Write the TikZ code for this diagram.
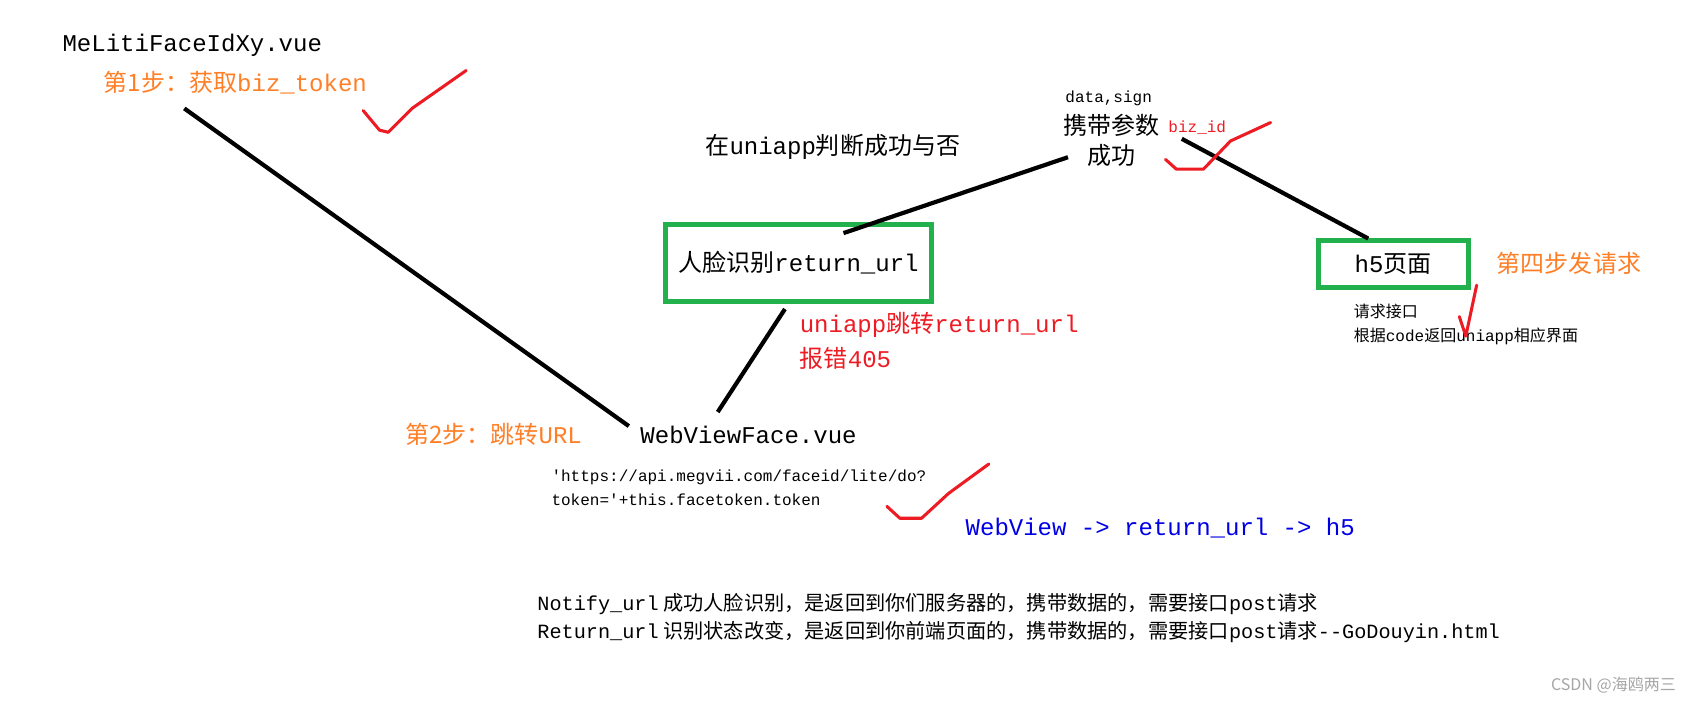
\documentclass[tikz,border=0pt]{standalone}
\usepackage{fontspec}
\setmainfont{Noto Sans CJK SC}
\newfontfamily\mo{Liberation Mono}
\definecolor{org}{RGB}{255,127,39}
\definecolor{grn}{RGB}{34,177,76}
\definecolor{rd}{RGB}{237,28,36}
\definecolor{bl}{RGB}{0,0,230}
\begin{document}
\begin{tikzpicture}[x=0.01cm,y=-0.01cm,
  txt/.style={anchor=west,inner sep=0pt,font=\fontsize{6.3}{7.5}\selectfont},
  sm/.style={anchor=west,inner sep=0pt,font=\fontsize{4.2}{5}\selectfont},
  bt/.style={anchor=west,inner sep=0pt,font=\fontsize{5.3}{6}\selectfont},
  ln/.style={line width=1.1pt,black},
  chk/.style={rd,line width=0.8pt,line cap=round,line join=round},
  gbox/.style={draw=grn,line width=1.3pt,minimum width=2.43cm,minimum height=0.71cm,font=\fontsize{6.3}{7.5}\selectfont}]
\useasboundingbox[fill=white] (0,0) rectangle (1568,647);
\node[txt] (mel) at (57,42) {\mo MeLitiFaceIdXy.vue};
\node[txt,org] (s1) at (95,76) {第1步：获取{\mo biz\_token}};
\node[txt] (judge) at (650,135) {在{\mo uniapp}判断成功与否};
\node[sm] (ds) at (982,91) {\mo data,sign};
\node[txt] (xd) at (980,116) {携带参数};
\node[sm,rd] (bid) at (1077,118) {\mo biz\_id};
\node[txt,anchor=center] (cg) at (1025,143) {成功};
\node[gbox] (face) at (736.5,242.5) {人脸识别{\mo return\_url}};
\node[gbox,minimum width=1.38cm,minimum height=0.43cm] (h5) at (1285,243.5) {{\mo h5}页面};
\node[txt,org] (s4) at (1380,243) {第四步发请求};
\node[sm] (q1) at (1248,287) {请求接口};
\node[sm] (q2) at (1248,310) {根据{\mo code}返回{\mo uniapp}相应界面};
\node[txt,rd] (e1) at (737,300) {{\mo uniapp}跳转{\mo return\_url}};
\node[txt,rd] (e2) at (737,331) {报错{\mo 405}};
\node[txt,org] (s2) at (373,401) {第2步：跳转{\mo URL}};
\node[txt] (wv) at (590,401) {\mo WebViewFace.vue};
\node[sm] (u1) at (508,440) {\mo 'https://api.megvii.com/faceid/lite/do?};
\node[sm] (u2) at (508,461) {\mo token='+this.facetoken.token};
\node[txt,bl] (flow) at (890,487) {\mo WebView -> return\_url -> h5};
\node[bt] (n1) at (495,557) {{\mo Notify\_url} 成功人脸识别，是返回到你们服务器的，携带数据的，需要接口{\mo post}请求};
\node[bt] (n2) at (495,583) {{\mo Return\_url} 识别状态改变，是返回到你前端页面的，携带数据的，需要接口{\mo post}请求{\mo --GoDouyin.html}};
\node[anchor=west,inner sep=0pt,font=\fontsize{4.2}{5}\selectfont,gray!70] (csdn) at (1430,632) {CSDN @海鸥两三};
\coordinate (a1) at (170,100); \coordinate (a2) at (580,393);
\coordinate (b1) at (778,215); \coordinate (b2) at (985,145);
\coordinate (c1) at (1090,128); \coordinate (c2) at (1262,220);
\coordinate (d1) at (724,285); \coordinate (d2) at (662,380);
\draw[ln] (a1) -- (a2);
\draw[ln] (b1) -- (b2);
\draw[ln] (c1) -- (c2);
\draw[ln] (d1) -- (d2);
\draw[chk] (335,102) -- (350,120) -- (358,122) -- (380,100) -- (430,65);
\draw[chk] (1075,147) -- (1085,156) -- (1110,156) -- (1135,130) -- (1172,113);
\draw[chk] (1346,292) -- (1352,310) -- (1362,263);
\draw[chk] (818,467) -- (830,478) -- (850,478) -- (875,455) -- (912,428);
\end{tikzpicture}
\end{document}
